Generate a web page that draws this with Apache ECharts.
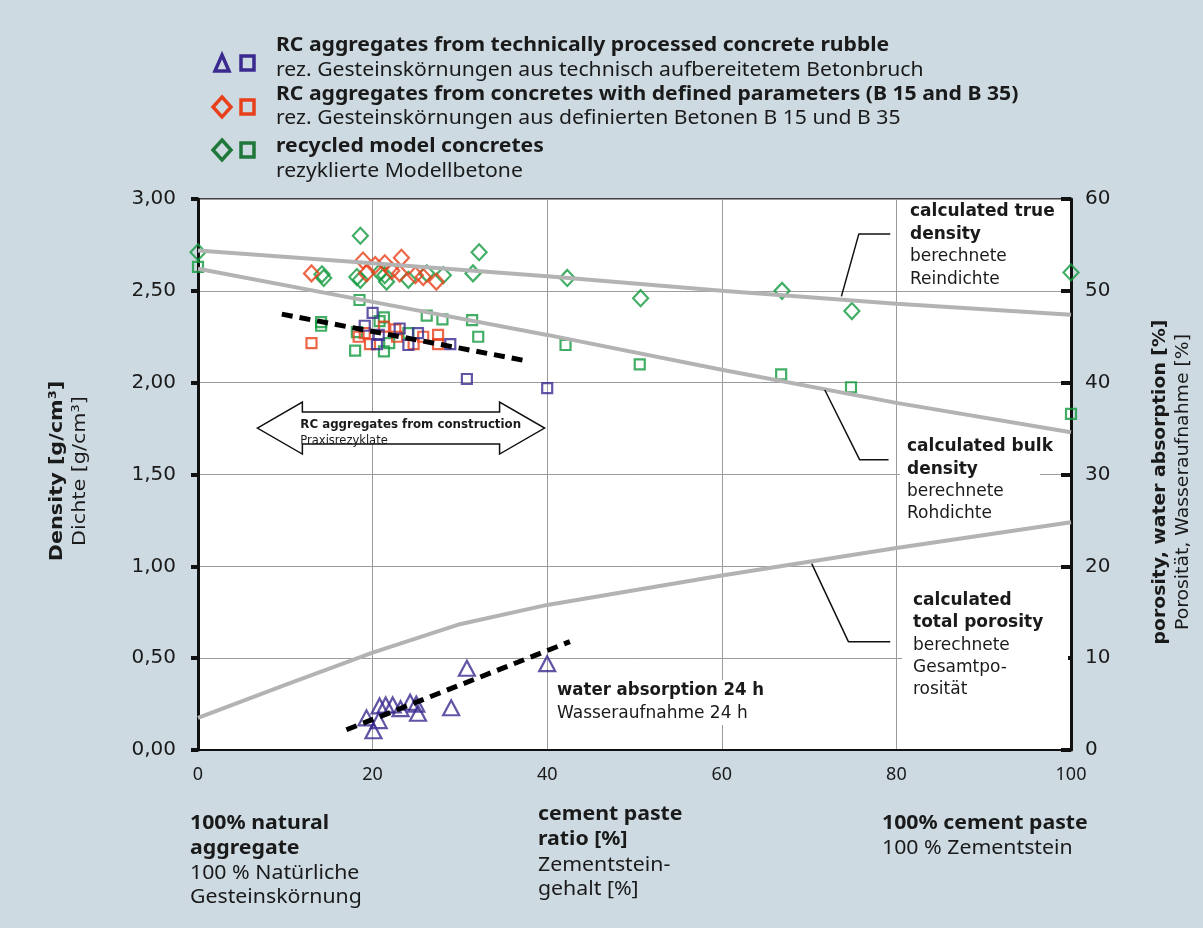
<!DOCTYPE html>
<html>
<head>
<meta charset="utf-8">
<script src="https://cdn.jsdelivr.net/npm/echarts@6/dist/echarts.min.js"></script>
<style>
  html, body { margin: 0; padding: 0; background: #cddae2; }
  #chart { width: 1203px; height: 928px; }
</style>
</head>
<body>
<div id="chart"></div>
<script>
// ---- calculated model curves ----
const calcX = [0, 20, 40, 60, 80, 100];
const trueDensity = [2.72, 2.65, 2.58, 2.50, 2.43, 2.37];
const bulkDensity = [2.62, 2.44, 2.26, 2.07, 1.89, 1.73];
const porosityX = [0, 10, 20, 30, 40, 60, 80, 100];
const totalPorosity = [3.5, 7.1, 10.6, 13.7, 15.8, 19.0, 22.0, 24.8];

// ---- RC aggregates from technically processed concrete rubble (purple) ----
const rubbleAbsX = [19.3, 20.1, 20.7, 20.8, 21.5, 22.3, 23.2, 24.3, 25.0, 25.2, 29.0, 30.8, 40.0];
const rubbleAbs  = [3.5, 2.1, 3.2, 4.8, 4.9, 4.9, 4.5, 5.2, 5.0, 4.0, 4.6, 8.9, 9.4];
const rubbleBulkX = [19.1, 20.0, 20.5, 20.7, 23.1, 24.1, 25.2, 28.9, 30.8, 40.0];
const rubbleBulk  = [2.31, 2.38, 2.21, 2.26, 2.295, 2.205, 2.27, 2.21, 2.02, 1.97];

// ---- RC aggregates from concretes B 15 / B 35 (orange) ----
const definedTrueX = [13.0, 18.9, 19.3, 20.3, 21.4, 22.2, 23.3, 23.1, 24.9, 25.8, 27.3];
const definedTrue  = [2.595, 2.665, 2.595, 2.64, 2.65, 2.61, 2.68, 2.595, 2.585, 2.575, 2.55];
const definedBulkX = [13.0, 18.4, 19.1, 19.7, 21.3, 22.6, 22.8, 24.7, 25.8, 27.5, 27.5];
const definedBulk  = [2.215, 2.25, 2.27, 2.21, 2.305, 2.29, 2.25, 2.21, 2.25, 2.26, 2.21];

// ---- recycled model concretes (green) ----
const modelTrueX = [0, 14.2, 14.4, 18.2, 18.6, 18.6, 20.8, 21.4, 21.6, 24.1, 26.2, 28.1, 31.5, 32.2, 42.3, 50.7, 66.9, 74.9, 100];
const modelTrue  = [2.71, 2.59, 2.57, 2.575, 2.56, 2.80, 2.60, 2.585, 2.55, 2.56, 2.595, 2.585, 2.595, 2.71, 2.57, 2.46, 2.50, 2.39, 2.60];
const modelBulkX = [0, 14.1, 14.1, 18.0, 18.2, 18.5, 20.8, 21.3, 21.3, 21.9, 24.1, 26.2, 28.0, 31.4, 32.1, 42.1, 50.6, 66.8, 74.8, 100];
const modelBulk  = [2.63, 2.33, 2.31, 2.175, 2.275, 2.45, 2.335, 2.355, 2.17, 2.215, 2.27, 2.365, 2.345, 2.34, 2.25, 2.205, 2.10, 2.045, 1.975, 1.83];

// ---- regression lines ----
const bulkTrendX = [9.6, 37.6];
const bulkTrend  = [2.373, 2.119];
const absTrendX  = [17.0, 42.6];
const absTrend   = [2.2, 11.8];

// ---- callout leader lines ----
const trueCalloutX = [73.7, 75.7, 79.3];
const trueCalloutY = [2.47, 2.81, 2.81];
const bulkCalloutX = [71.8, 75.8, 79.1];
const bulkCalloutY = [1.96, 1.58, 1.58];
const porCalloutX  = [70.3, 74.5, 79.3];
const porCalloutY  = [20.3, 11.8, 11.8];

// ---- double arrow (construction RC aggregates range) ----
const arrowX = [6.8, 39.7];
const arrowY = 1.753;

// ---- axis ticks ----
const xTicks = { min: 0, max: 100, interval: 20 };
const densityTicks = { min: 0, max: 3, interval: 0.5 };
const porosityTicks = { min: 0, max: 60, interval: 10 };

const PURPLE = '#3a2a90';
const ORANGE = '#e8401a';
const GREEN = '#139a3e';
const GREEN_DARK = '#1f773a';
const CURVE = '#b3b3b3';
const GRIDLINE = '#9c9c9c';
const INK = '#1a1a1a';
const SANS = '"Noto Sans", sans-serif';
const WIDE = '"DejaVu Sans", sans-serif';

const zip = (xs, ys) => xs.map((x, i) => [x, ys[i]]);

function scatter(name, xs, ys, symbol, size, color, yAxisIndex) {
  return {
    name, type: 'scatter', yAxisIndex,
    symbol, symbolSize: size,
    data: zip(xs, ys),
    itemStyle: { color: 'rgba(255,255,255,0)', borderColor: color, borderWidth: 2.2 },
    z: 2, silent: true
  };
}

function line(name, xs, ys, yAxisIndex, style, z) {
  return {
    name, type: 'line', yAxisIndex, data: zip(xs, ys),
    showSymbol: false, symbol: 'none', lineStyle: style, z, silent: true, animation: false
  };
}

const chart = echarts.init(document.getElementById('chart'), null, { renderer: 'canvas' });

chart.setOption({
  animation: false,
  backgroundColor: '#cddae2',
  grid: {
    left: 198, right: 132, top: 199, bottom: 178,
    show: true, backgroundColor: '#ffffff', borderColor: '#111', borderWidth: 1.5
  },
  xAxis: {
    type: 'value', min: xTicks.min, max: xTicks.max, interval: xTicks.interval,
    axisLine: { show: true, onZero: false, lineStyle: { color: '#111', width: 2 } },
    axisTick: { show: false },
    splitLine: { show: true, lineStyle: { color: GRIDLINE, width: 1 } },
    axisLabel: { fontFamily: SANS, fontSize: 18, color: INK, margin: 16 }
  },
  yAxis: [
    {
      type: 'value', min: densityTicks.min, max: densityTicks.max, interval: densityTicks.interval,
      axisLine: { show: true, lineStyle: { color: '#111', width: 3 } },
      axisTick: { show: true, inside: false, length: 7, lineStyle: { color: '#111', width: 4 } },
      splitLine: { show: true, lineStyle: { color: GRIDLINE, width: 1 } },
      axisLabel: {
        fontFamily: WIDE, fontSize: 20, color: INK, margin: 22,
        formatter: v => v.toFixed(2).replace('.', ',')
      }
    },
    {
      type: 'value', position: 'right', min: porosityTicks.min, max: porosityTicks.max, interval: porosityTicks.interval,
      axisLine: { show: true, lineStyle: { color: '#111', width: 3 } },
      axisTick: { show: true, inside: true, length: 10, lineStyle: { color: '#111', width: 4 } },
      splitLine: { show: false },
      axisLabel: { fontFamily: WIDE, fontSize: 20, color: INK, margin: 14 }
    }
  ],
  series: [
    scatter('model true density', modelTrueX, modelTrue, 'diamond', [15, 16], GREEN, 0),
    scatter('model bulk density', modelBulkX, modelBulk, 'rect', 10, GREEN, 0),
    scatter('B15/B35 true density', definedTrueX, definedTrue, 'diamond', [15, 16], ORANGE, 0),
    scatter('B15/B35 bulk density', definedBulkX, definedBulk, 'rect', 10, ORANGE, 0),
    scatter('rubble bulk density', rubbleBulkX, rubbleBulk, 'rect', 10, PURPLE, 0),
    scatter('rubble water absorption', rubbleAbsX, rubbleAbs, 'triangle', [16, 15], PURPLE, 1),
    line('calculated true density', calcX, trueDensity, 0, { color: CURVE, width: 4 }, 3),
    line('calculated bulk density', calcX, bulkDensity, 0, { color: CURVE, width: 4 }, 3),
    line('calculated total porosity', porosityX, totalPorosity, 1, { color: CURVE, width: 4 }, 3),
    line('bulk density trend', bulkTrendX, bulkTrend, 0, { color: '#000', width: 5, type: [11, 7] }, 4),
    line('water absorption trend', absTrendX, absTrend, 1, { color: '#000', width: 5, type: [11, 7] }, 4),
    line('true density callout', trueCalloutX, trueCalloutY, 0, { color: '#111', width: 1.5 }, 4),
    line('bulk density callout', bulkCalloutX, bulkCalloutY, 0, { color: '#111', width: 1.5 }, 4),
    line('porosity callout', porCalloutX, porCalloutY, 1, { color: '#111', width: 1.5 }, 4)
  ]
});

// ---- text & annotation graphics ----
function txt(x, y, text, opt) {
  opt = opt || {};
  return {
    type: 'text', x, y, rotation: opt.rotation || 0, scaleX: opt.scaleX || 1, z: 100, silent: true,
    style: {
      text,
      fill: opt.fill || INK,
      fontFamily: opt.family || SANS,
      fontSize: opt.size || 19,
      fontWeight: opt.bold ? 'bold' : 'normal',
      align: opt.align || 'left', textAlign: opt.align || 'left',
      verticalAlign: 'middle', textVerticalAlign: 'middle'
    }
  };
}
function whiteBox(x, y, w, h) {
  return { type: 'rect', shape: { x, y, width: w, height: h }, style: { fill: '#fff' }, z: 90, silent: true };
}

const g = [];

// legend
const legendIcons = [
  { y: 63, first: 'triangle', color: PURPLE },
  { y: 107, first: 'diamond', color: ORANGE },
  { y: 150, first: 'diamond', color: GREEN_DARK }
];
legendIcons.forEach(ic => {
  const cx = 222;
  let pts;
  if (ic.first === 'triangle') pts = [[cx, ic.y - 8], [cx + 7, ic.y + 8], [cx - 7, ic.y + 8]];
  else pts = [[cx, ic.y - 10], [cx + 9, ic.y], [cx, ic.y + 10], [cx - 9, ic.y]];
  g.push({ type: 'polygon', shape: { points: pts }, style: { fill: 'none', stroke: ic.color, lineWidth: 3.5 }, z: 100, silent: true });
  g.push({ type: 'rect', shape: { x: 241, y: ic.y - 7, width: 13, height: 14 }, style: { fill: 'none', stroke: ic.color, lineWidth: 3.5 }, z: 100, silent: true });
});
const LEG = { size: 19, scaleX: 1.113 };
g.push(txt(276, 46, 'RC aggregates from technically processed concrete rubble', Object.assign({ bold: true }, LEG)));
g.push(txt(276, 71, 'rez. Gesteinskörnungen aus technisch aufbereitetem Betonbruch', LEG));
g.push(txt(276, 95, 'RC aggregates from concretes with defined parameters (B 15 and B 35)', Object.assign({ bold: true }, LEG)));
g.push(txt(276, 119, 'rez. Gesteinskörnungen aus definierten Betonen B 15 und B 35', LEG));
g.push(txt(276, 147, 'recycled model concretes', Object.assign({ bold: true }, LEG)));
g.push(txt(276, 172, 'rezyklierte Modellbetone', LEG));

// axis titles
g.push(txt(57, 471, 'Density [g/cm³]', { bold: true, size: 18.5, scaleX: 1.12, family: WIDE, rotation: Math.PI / 2, align: 'center' }));
g.push(txt(80, 471, 'Dichte [g/cm³]', { size: 18.5, scaleX: 1.12, family: WIDE, rotation: Math.PI / 2, align: 'center' }));
g.push(txt(1160, 482, 'porosity, water absorption [%]', { bold: true, size: 17.5, scaleX: 1.075, family: WIDE, rotation: Math.PI / 2, align: 'center' }));
g.push(txt(1183, 482, 'Porosität, Wasseraufnahme [%]', { size: 17.5, scaleX: 1.075, family: WIDE, rotation: Math.PI / 2, align: 'center' }));

// bottom captions
const CAP = { size: 19, scaleX: 1.12 };
g.push(txt(190, 824, '100% natural', Object.assign({ bold: true }, CAP)));
g.push(txt(190, 849, 'aggregate', Object.assign({ bold: true }, CAP)));
g.push(txt(190, 874, '100 % Natürliche', CAP));
g.push(txt(190, 898, 'Gesteinskörnung', CAP));
g.push(txt(538, 815, 'cement paste', Object.assign({ bold: true }, CAP)));
g.push(txt(538, 840, 'ratio [%]', Object.assign({ bold: true }, CAP)));
g.push(txt(538, 866, 'Zementstein-', CAP));
g.push(txt(538, 890, 'gehalt [%]', CAP));
g.push(txt(882, 824, '100% cement paste', Object.assign({ bold: true }, CAP)));
g.push(txt(882, 849, '100 % Zementstein', CAP));

// curve annotations
const A = { family: WIDE, size: 17 };
g.push(txt(910, 212, 'calculated true', Object.assign({ bold: true }, A)));
g.push(txt(910, 235, 'density', Object.assign({ bold: true }, A)));
g.push(txt(910, 257, 'berechnete', A));
g.push(txt(910, 280, 'Reindichte', A));

g.push(whiteBox(900, 436, 140, 88));
g.push(txt(907, 447, 'calculated bulk', Object.assign({ bold: true }, A)));
g.push(txt(907, 470, 'density', Object.assign({ bold: true }, A)));
g.push(txt(907, 492, 'berechnete', A));
g.push(txt(907, 514, 'Rohdichte', A));

g.push(whiteBox(902, 590, 166, 112));
g.push(txt(913, 601, 'calculated', Object.assign({ bold: true }, A)));
g.push(txt(913, 623, 'total porosity', Object.assign({ bold: true }, A)));
g.push(txt(913, 646, 'berechnete', A));
g.push(txt(913, 668, 'Gesamtpo-', A));
g.push(txt(913, 690, 'rosität', A));

g.push(whiteBox(552, 680, 214, 45));
g.push(txt(557, 691, 'water absorption 24 h', Object.assign({ bold: true, scaleX: 0.975 }, A)));
g.push(txt(557, 714, 'Wasseraufnahme 24 h', A));

// double arrow placed in data coordinates
const pL = chart.convertToPixel({ gridIndex: 0 }, [arrowX[0], arrowY]);
const pR = chart.convertToPixel({ gridIndex: 0 }, [arrowX[1], arrowY]);
const headLen = 45, headH = 26, shaftH = 16, cy = pL[1];
g.push({
  type: 'polygon', z: 95, silent: true,
  shape: { points: [
    [pL[0], cy], [pL[0] + headLen, cy - headH], [pL[0] + headLen, cy - shaftH],
    [pR[0] - headLen, cy - shaftH], [pR[0] - headLen, cy - headH], [pR[0], cy],
    [pR[0] - headLen, cy + headH], [pR[0] - headLen, cy + shaftH],
    [pL[0] + headLen, cy + shaftH], [pL[0] + headLen, cy + headH]
  ] },
  style: { fill: '#fff', stroke: '#111', lineWidth: 1.5 }
});
g.push(txt(pL[0] + 43, cy - 3, 'RC aggregates from construction', { family: WIDE, size: 11.8, bold: true }));
g.push(txt(pL[0] + 43, cy + 13, 'Praxisrezyklate', { family: WIDE, size: 11.5 }));

chart.setOption({ graphic: g });
</script>
</body>
</html>
